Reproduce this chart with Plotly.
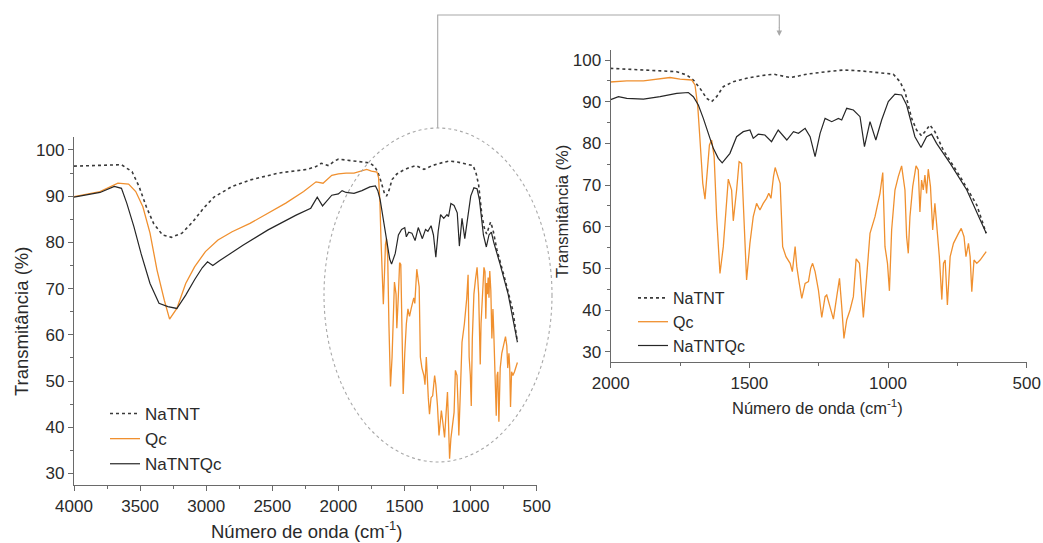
import plotly.graph_objects as go

# ---------------- data (wavenumber cm-1, transmittance %) ----------------
wn_natnt = [4000, 3750, 3641, 3561, 3508, 3453, 3398, 3330, 3263, 3183, 3100, 3020, 2941, 2804,
            2669, 2452, 2237, 2170, 2130, 2074, 2030, 2000, 1942, 1822, 1762, 1726, 1702, 1678,
            1654, 1636, 1618, 1594, 1558, 1510, 1462, 1413, 1380, 1353, 1320, 1293, 1221, 1161,
            1101, 1041, 981, 957, 939, 927, 915, 897, 879, 867, 849, 831, 801, 740, 680, 646]
t_natnt = [96.5, 96.8, 96.8, 95.3, 92.1, 87.7, 84.1, 81.6, 81.1, 82.0, 84.5, 87.4, 89.8, 92.1,
           93.5, 95.0, 95.8, 96.4, 97.1, 96.6, 97.6, 98.0, 97.8, 97.4, 97.2, 96.4, 95.2, 93.2,
           90.8, 90.0, 91.2, 93.6, 94.8, 95.6, 96.2, 96.6, 96.2, 95.8, 96.2, 96.6, 97.2, 97.6,
           97.4, 97.0, 96.6, 94.8, 92.4, 89.2, 86.0, 83.2, 81.8, 82.8, 84.4, 82.8, 78.4, 72.0, 65.2, 58.4]

wn_qc = [4000, 3803, 3668, 3587, 3533, 3479, 3425, 3372, 3317, 3277, 3222, 3155, 3088, 3006,
         2911, 2804, 2669, 2532, 2398, 2263, 2169, 2116, 2050, 2000, 1942, 1882, 1822, 1786,
         1750, 1708, 1696, 1686, 1678, 1668, 1660, 1651, 1644, 1636, 1627, 1618, 1606, 1594,
         1576, 1564, 1558, 1546, 1537, 1528, 1519, 1510, 1498, 1486, 1474, 1462, 1450, 1438,
         1430, 1422, 1413, 1407, 1395, 1389, 1380, 1368, 1353, 1345, 1335, 1329, 1320, 1311,
         1299, 1287, 1279, 1272, 1263, 1251, 1239, 1227, 1221, 1209, 1197, 1185, 1175, 1167,
         1159, 1149, 1137, 1125, 1115, 1103, 1095, 1089, 1077, 1065, 1047, 1029, 1019, 1011,
         1002, 995, 987, 975, 963, 951, 939, 933, 927, 921, 911, 899, 891, 885, 879, 873, 867,
         861, 855, 847, 839, 831, 825, 815, 806, 800, 794, 786, 776, 764, 746, 736, 726, 719,
         710, 704, 698, 690, 680, 668, 646]
t_qc = [89.9, 91.0, 92.8, 92.6, 91.0, 87.7, 82.0, 74.0, 67.5, 63.4, 65.7, 71.1, 74.7, 78.0,
        80.5, 82.3, 84.1, 86.3, 88.5, 91.0, 93.1, 92.8, 94.5, 94.8, 95.0, 95.0, 95.6, 95.8,
        95.4, 95.2, 94.0, 88.8, 80.8, 70.4, 66.6, 73.6, 79.6, 80.8, 76.8, 62.4, 48.8, 55.2,
        71.4, 68.8, 61.4, 68.8, 75.6, 75.2, 59.2, 47.2, 56.0, 62.4, 65.6, 64.0, 65.6, 66.8,
        68.0, 66.8, 72.0, 74.2, 71.6, 70.4, 55.2, 52.8, 51.2, 49.2, 55.2, 50.4, 46.4, 42.8,
        46.4, 46.8, 50.0, 51.2, 49.2, 44.8, 38.2, 43.2, 43.6, 40.8, 37.8, 43.2, 47.6, 40.8,
        33.2, 37.6, 40.0, 43.2, 52.3, 51.2, 44.8, 38.2, 48.0, 58.4, 62.4, 68.0, 73.0, 55.2,
        51.2, 44.6, 59.2, 68.8, 72.0, 74.6, 68.8, 57.6, 53.6, 62.4, 69.6, 74.6, 73.6, 63.5, 71.2, 68.8, 72.4,
        68.0, 73.8, 69.6, 59.2, 65.6, 60.8, 52.8, 42.5, 51.2, 52.0, 41.2, 52.8, 56.0, 58.4, 59.6, 57.6, 52.8,
        56.0, 52.8, 44.4, 52.0, 51.2, 52.0, 54.0]

wn_natntqc = [4000, 3803, 3695, 3641, 3601, 3547, 3493, 3425, 3357, 3290, 3222, 3155, 3088, 3030,
              2990, 2950, 2900, 2722, 2532, 2398, 2320, 2209, 2160, 2120, 2050, 2000, 1972, 1942,
              1882, 1822, 1762, 1720, 1702, 1684, 1666, 1648, 1630, 1612, 1598, 1570, 1546, 1522,
              1498, 1486, 1468, 1444, 1420, 1396, 1365, 1341, 1323, 1299, 1281, 1263, 1245, 1227,
              1203, 1179, 1167, 1149, 1125, 1101, 1085, 1065, 1044, 1023, 999, 975, 951, 933, 915,
              903, 881, 861, 843, 825, 776, 716, 646]
t_natntqc = [89.8, 90.8, 92.1, 91.7, 88.5, 83.4, 77.6, 71.1, 66.8, 66.1, 65.7, 68.6, 71.9, 74.5,
             75.8, 75.0, 76.0, 79.4, 82.7, 84.8, 85.9, 87.4, 89.8, 87.9, 90.2, 90.5, 91.2, 90.8,
             90.6, 91.2, 92.0, 92.2, 91.2, 89.2, 86.0, 82.4, 78.8, 76.4, 75.3, 77.6, 81.6, 82.8,
             83.2, 81.2, 82.2, 82.0, 80.4, 83.2, 80.8, 82.8, 82.4, 83.6, 81.6, 76.8, 82.4, 86.0,
             85.2, 86.0, 85.6, 88.4, 88.0, 86.4, 79.2, 85.2, 80.8, 85.6, 90.0, 91.8, 91.6, 89.2, 84.4,
             81.6, 79.0, 81.6, 82.2, 80.0, 75.2, 68.8, 58.4]

series_names = ["NaTNT", "Qc", "NaTNTQc"]
x_ticks_main = [4000, 3500, 3000, 2500, 2000, 1500, 1000, 500]
x_ticks_inset = [2000, 1500, 1000, 500]
y_ticks = [30, 40, 50, 60, 70, 80, 90, 100]

# ---------------- styling ----------------
W, H = 1043, 543
FONT = "Liberation Sans, Arial, sans-serif"
TXT = "#2a2a2a"
AX = "#6a6a6a"
styles = [dict(color="#3a3a3a", width=1.6, dash="3px,3px"),
          dict(color="#F0902F", width=1.3),
          dict(color="#262626", width=1.2)]
data = [(wn_natnt, t_natnt), (wn_qc, t_qc), (wn_natntqc, t_natntqc)]

def px(x):
    return x / W

def py(y):
    return 1 - y / H

fig = go.Figure()
for name, (xs, ys), st in zip(series_names, data, styles):
    fig.add_trace(go.Scatter(x=xs, y=ys, mode="lines", name=name, line=st,
                             xaxis="x", yaxis="y", legend="legend"))
for name, (xs, ys), st in zip(series_names, data, styles):
    fig.add_trace(go.Scatter(x=xs, y=ys, mode="lines", name=name, line=st,
                             xaxis="x2", yaxis="y2", legend="legend2"))

axis_common = dict(showline=True, linecolor=AX, linewidth=1.3, ticks="outside", ticklen=5,
                   tickwidth=1.2, tickcolor=AX, showgrid=False, zeroline=False, automargin=False,
                   tickfont=dict(family=FONT, size=17, color=TXT), mirror=False)

fig.update_layout(
    width=W, height=H, margin=dict(l=0, r=0, t=0, b=0, autoexpand=False),
    paper_bgcolor="white", plot_bgcolor="white",
    xaxis=dict(domain=[px(74), px(536.7)], range=[4000, 500], tickvals=x_ticks_main,
               anchor="y", minor=dict(dtick=250, ticks="outside", ticklen=3, tickcolor=AX),
               **axis_common),
    yaxis=dict(domain=[py(485), py(137)], range=[27.5, 102.8], tickvals=y_ticks, anchor="x",
               minor=dict(dtick=5, ticks="outside", ticklen=3, tickcolor=AX), **axis_common),
    xaxis2=dict(domain=[px(610.7), px(1026.7)], range=[2000, 500], tickvals=x_ticks_inset,
                anchor="y2", minor=dict(dtick=250, ticks="outside", ticklen=3, tickcolor=AX),
                **axis_common),
    yaxis2=dict(domain=[py(362.3), py(50)], range=[27.45, 102.4], tickvals=y_ticks, anchor="x2",
                minor=dict(dtick=5, ticks="outside", ticklen=3, tickcolor=AX), **axis_common),
    legend=dict(x=px(105), y=py(396), xanchor="left", yanchor="top", bgcolor="rgba(0,0,0,0)",
                font=dict(family=FONT, size=17, color=TXT), tracegroupgap=0),
    legend2=dict(x=px(633), y=py(281), xanchor="left", yanchor="top", bgcolor="rgba(0,0,0,0)",
                 font=dict(family=FONT, size=16, color=TXT), tracegroupgap=0),
    showlegend=True,
)

# axis titles
ann = dict(xref="paper", yref="paper", showarrow=False, xanchor="center", yanchor="middle")
fig.add_annotation(x=px(306), y=py(530), text="Número de onda (cm<sup>-1</sup>)",
                   font=dict(family=FONT, size=18.5, color=TXT), **ann)
fig.add_annotation(x=px(21), y=py(322), text="Transmitância (%)", textangle=-90,
                   font=dict(family=FONT, size=18.5, color=TXT), **ann)
fig.add_annotation(x=px(817), y=py(407), text="Número de onda (cm<sup>-1</sup>)",
                   font=dict(family=FONT, size=16.5, color=TXT), **ann)
fig.add_annotation(x=px(562), y=py(212), text="Transmitância (%)", textangle=-90,
                   font=dict(family=FONT, size=16.5, color=TXT), **ann)

# zoom ellipse and connector
GR = "#a8a8a8"
fig.add_shape(type="circle", xref="paper", yref="paper", x0=px(324), x1=px(552),
              y0=py(462), y1=py(128), line=dict(color=GR, width=1.1, dash="dot"))
fig.add_shape(type="path", xref="paper", yref="paper",
              path=f"M {px(437.7)},{py(128)} L {px(437.7)},{py(15)} L {px(779.3)},{py(15)} L {px(779.3)},{py(28)}",
              line=dict(color=GR, width=1.1))
fig.add_annotation(x=px(779.3), y=py(36), xref="paper", yref="paper", ax=0, ay=-10,
                   text="", showarrow=True, arrowhead=2, arrowsize=1, arrowwidth=1.1,
                   arrowcolor=GR)

fig.write_html("out.html")
